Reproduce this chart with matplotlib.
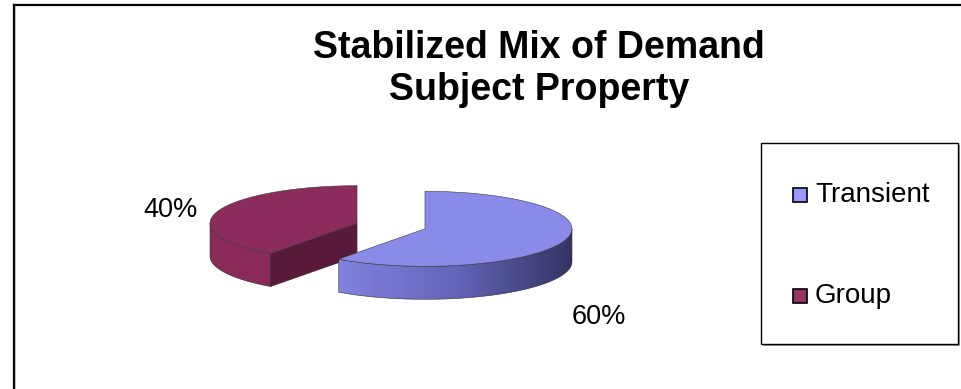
import numpy as np
import matplotlib
matplotlib.use("Agg")
import matplotlib.pyplot as plt
from matplotlib.patches import Polygon, Rectangle
from matplotlib.lines import Line2D

# ---- data ----
title_lines = ["Stabilized Mix of Demand", "Subject Property"]
categories = ["Transient", "Group"]
values = [60, 40]
legend_colors = ["#9999FF", "#993366"]
top_colors = ["#8A8AEA", "#8C2C5C"]
side_colors = ["#8080DC", "#8A2A58"]
radial_colors = ["#3A3A68", "#581A38"]

W, H = 961, 389
fig = plt.figure(figsize=(W / 100, H / 100), dpi=100)
ax = fig.add_axes([0, 0, 1, 1])
ax.set_xlim(0, W)
ax.set_ylim(H, 0)
ax.axis("off")
FONT = "Liberation Sans"

# ---- pie geometry (style) ----
C0 = (391.0, 226.0)
A, B = 147.0, 37.5
DEPTH = 33.0
EXPLODE = 0.243


def pt(c, th):
    t = np.radians(th)
    return np.column_stack([c[0] + A * np.sin(t), c[1] - B * np.cos(t)])


total = float(sum(values))
angles = np.concatenate([[0], np.cumsum(values) / total * 360.0])
slices = []
for i, v in enumerate(values):
    t1, t2 = angles[i], angles[i + 1]
    m = np.radians((t1 + t2) / 2)
    c = (C0[0] + EXPLODE * A * np.sin(m), C0[1] - EXPLODE * B * np.cos(m))
    slices.append((c, t1, t2))


def radial_face(c, th, color):
    p = pt(c, th)[0]
    poly = np.array([c, p, p + [0, DEPTH], [c[0], c[1] + DEPTH]])
    ax.add_patch(Polygon(poly, closed=True, facecolor=color,
                         edgecolor="#2a2a2a", lw=0.4, zorder=2))


# draw back-most slices first (Group is higher on the page)
order = sorted(range(len(values)), key=lambda i: slices[i][0][1])
for i in order:
    c, t1, t2 = slices[i]
    # radial faces turned toward the viewer
    if 180 < t1 < 360:
        radial_face(c, t1, radial_colors[i])
    if 0 < t2 < 180:
        radial_face(c, t2, radial_colors[i])
    # outer side (front half: 90..270)
    s1, s2 = max(t1, 90), min(t2, 270)
    if s2 > s1:
        ths = np.linspace(s1, s2, 120)
        top = pt(c, ths)
        bot = top + [0, DEPTH]
        poly = np.vstack([top, bot[::-1]])
        patch = Polygon(poly, closed=True, facecolor="none",
                        edgecolor="#2a2a2a", lw=0.4, zorder=3)
        ax.add_patch(patch)
        if i == 0:
            # horizontal gradient light -> dark
            x0, x1 = poly[:, 0].min(), poly[:, 0].max()
            y0, y1 = poly[:, 1].min(), poly[:, 1].max()
            g = np.linspace(0, 1, 256)
            light = np.array([130, 130, 222]) / 255
            mid = np.array([100, 100, 185]) / 255
            dark = np.array([52, 52, 98]) / 255
            cols = np.where(g[:, None] < 0.5,
                            light + (mid - light) * (g[:, None] / 0.5),
                            mid + (dark - mid) * ((g[:, None] - 0.5) / 0.5))
            img = np.tile(cols[None, :, :], (2, 1, 1))
            im = ax.imshow(img, extent=[x0, x1, y1, y0], aspect="auto",
                           zorder=2.5, interpolation="bilinear")
            im.set_clip_path(patch)
        else:
            patch.set_facecolor(side_colors[i])
    # top face
    ths = np.linspace(t1, t2, 200)
    arc = pt(c, ths)
    poly = np.vstack([[c], arc])
    ax.add_patch(Polygon(poly, closed=True, facecolor=top_colors[i],
                         edgecolor="#3a3a3a", lw=0.4, zorder=4))

# ---- data labels ----
label_pos = [(599, 324), (170, 217)]
for i, v in enumerate(values):
    ax.text(label_pos[i][0], label_pos[i][1], f"{v}%", fontsize=19.5,
            family=FONT, ha="center", va="baseline", color="black", zorder=6)

# ---- title ----
for j, line in enumerate(title_lines):
    ax.text(539, 58 + 42 * j, line, fontsize=27, fontweight="bold", family=FONT,
            ha="center", va="baseline", color="black")

# ---- legend box ----
lx0, ly0, lx1, ly1 = 761, 143, 958, 344
ax.add_patch(Rectangle((lx0 + 2, ly0 + 2), lx1 - lx0, ly1 - ly0,
                       facecolor="#9a9a9a", edgecolor="none", zorder=7))
ax.add_patch(Rectangle((lx0, ly0), lx1 - lx0, ly1 - ly0,
                       facecolor="white", edgecolor="black", lw=1.0, zorder=8))
leg_y = [194.5, 295.5]
for k, cat in enumerate(categories):
    ax.add_patch(Rectangle((793, leg_y[k] - 7), 14, 14, facecolor=legend_colors[k],
                           edgecolor="black", lw=1.2, zorder=9))
    ax.text(815, leg_y[k] + 7.5, cat, fontsize=20, family=FONT,
            ha="left", va="baseline", color="black", zorder=9)

# ---- chart border (top and left edges visible) ----
ax.add_line(Line2D([13.5, W], [4.5, 4.5], color="black", lw=1.6, zorder=10))
ax.add_line(Line2D([13.5, 13.5], [4.5, H], color="black", lw=1.6, zorder=10))
ax.add_line(Line2D([15.2, 15.2], [6, H], color="#bbbbbb", lw=0.8, zorder=10))

fig.savefig("out.png", dpi=100)
